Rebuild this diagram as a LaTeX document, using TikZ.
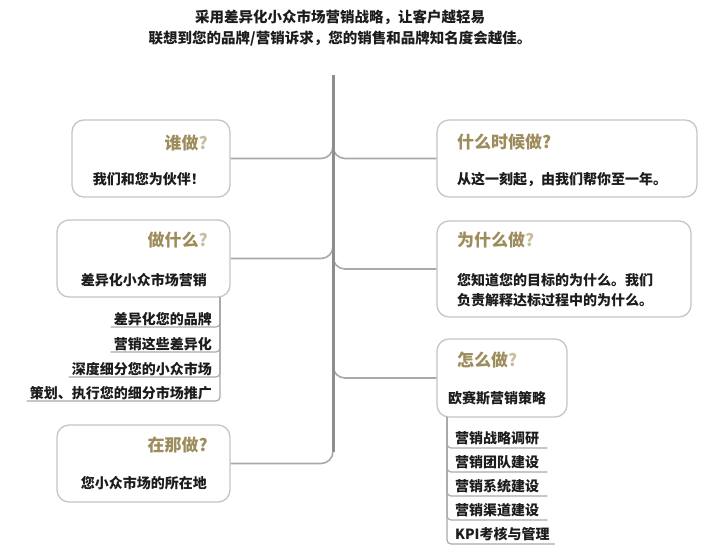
\documentclass[tikz,border=0pt]{standalone}
\usepackage{fontspec}
\setmainfont{Noto Sans CJK SC}
\definecolor{gold}{HTML}{9E8D5C}
\definecolor{goldl}{HTML}{C8BD9C}
\definecolor{boxline}{HTML}{C6C6C6}
\definecolor{trunkc}{HTML}{8E8E8E}
\definecolor{branchc}{HTML}{A9A9A9}
\definecolor{ink}{HTML}{1C1C1C}
\tikzset{
 box/.style={draw=boxline, line width=1.3pt, rounded corners=12pt, fill=white, inner sep=0pt},
 ttl/.style={font=\fontsize{17}{20}\selectfont\bfseries, text=gold, inner sep=0pt},
 body/.style={font=\fontsize{14}{20}\selectfont\bfseries, text=ink, inner sep=0pt},
 trunk/.style={draw=trunkc, line width=3pt},
 branch/.style={draw=branchc, line width=1.6pt, rounded corners=12pt},
 sub/.style={draw=branchc, line width=1.2pt, rounded corners=4pt},
 item/.style={font=\fontsize{14}{16}\selectfont\bfseries, text=ink, inner xsep=0pt, inner ysep=0.5pt, text depth=2pt},
 hitem/.style={item, inner ysep=2.5pt},
}
\begin{document}
\begin{tikzpicture}[x=1pt,y=-1pt]
\useasboundingbox (0,0) rectangle (720,544);
\fill[white] (0,0) rectangle (720,544);

% header
\node[font=\fontsize{14.5}{21}\selectfont\bfseries, text=ink, align=center, inner sep=0pt] (head) at (340,28)
  {采用差异化小众市场营销战略，让客户越轻易\\联想到您的品牌/营销诉求，您的销售和品牌知名度会越佳。};

% trunk coordinates
\coordinate (tt) at (333,75);
\coordinate (tb) at (333,452);
\coordinate (j1) at (333,140);
\coordinate (j2) at (333,240);
\coordinate (j3) at (333,250);
\coordinate (j4) at (333,360);
\coordinate (j5) at (333,440);

% boxes
\node[box, minimum width=158pt, minimum height=77pt] (who) at (151,158.5) {};
\node[box, minimum width=173pt, minimum height=77pt] (what) at (143.5,258.5) {};
\node[box, minimum width=173pt, minimum height=77pt] (where) at (143.5,463.5) {};
\node[box, minimum width=260pt, minimum height=77pt] (when) at (567,158.5) {};
\node[box, minimum width=254pt, minimum height=96pt] (why) at (564,269) {};
\node[box, minimum width=130pt, minimum height=78pt] (how) at (502,378) {};

% connectors
\draw[branch] (who.east) -| (j1);
\draw[branch] (what.east) -| (j2);
\draw[branch] (where.east) -| (j5);
\draw[branch] (when.west) -| (j1);
\draw[branch] (why.west) -| (j3);
\draw[branch] (how.west) -| (j4);
\draw[trunk] (tt) -- (tb);

% titles
\node[ttl, anchor=east] (whot) at (208,143) {谁做\textcolor{goldl}{?}};
\node[ttl, anchor=east] (whatt) at (208,240) {做什么\textcolor{goldl}{?}};
\node[ttl, anchor=east] (wheret) at (208,445) {在那做?};
\node[ttl, anchor=west] (whent) at (457,142) {什么时候做?};
\node[ttl, anchor=west] (whyt) at (457,240) {为什么做\textcolor{goldl}{?}};
\node[ttl, anchor=west] (howt) at (457,360) {怎么做\textcolor{goldl}{?}};

% bodies
\node[body, anchor=east] (whob) at (205,179) {我们和您为伙伴！};
\node[body, anchor=east] (whatb) at (207,280) {差异化小众市场营销};
\node[body, anchor=east] (whereb) at (207,483) {您小众市场的所在地};
\node[body, anchor=west] (whenb) at (457,180) {从这一刻起，由我们帮你至一年。};
\node[body, anchor=west, align=left] (whyb) at (457,290) {您知道您的目标的为什么。我们\\负责解释达标过程中的为什么。};
\node[body, anchor=west] (howb) at (448,398) {欧赛斯营销策略};

% what sub-items
\coordinate (wv) at (220,297);
\node[item, anchor=south east] (s1) at (212,327) {差异化您的品牌};
\node[item, anchor=south east] (s2) at (212,352) {营销这些差异化};
\node[item, anchor=south east] (s3) at (212,377) {深度细分您的小众市场};
\node[item, anchor=south east] (s4) at (212,401) {策划、执行您的细分市场推广};
\foreach \s in {s1,s2,s3,s4}{\draw[sub] ([xshift=-3pt]\s.south west) -| (wv);}

% how sub-items
\coordinate (hv) at (447,417);
\node[hitem, anchor=south west] (h1) at (455,448) {营销战略调研};
\node[hitem, anchor=south west] (h2) at (455,472) {营销团队建设};
\node[hitem, anchor=south west] (h3) at (455,496) {营销系统建设};
\node[hitem, anchor=south west] (h4) at (455,520) {营销渠道建设};
\node[hitem, anchor=south west] (h5) at (455,544) {KPI考核与管理};
\foreach \h in {h1,h2,h3,h4}{\draw[sub] ([xshift=8pt]\h.south east) -| (hv);}
\draw[sub] ([xshift=5pt]h5.south east) -| (hv);
\end{tikzpicture}
\end{document}
